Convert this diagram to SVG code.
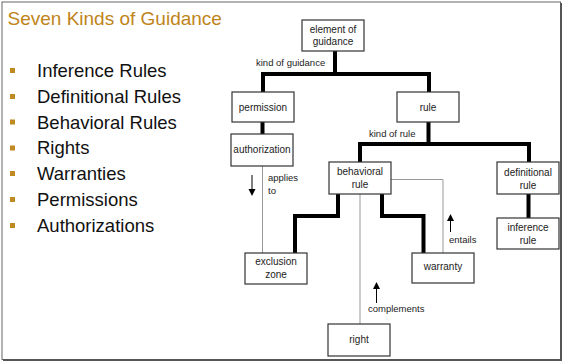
<svg xmlns="http://www.w3.org/2000/svg" width="564" height="364" viewBox="0 0 564 364">
<defs>
<style>
.box{fill:#fff;stroke:#333;stroke-width:1.2}
.nt{font-family:"Liberation Sans",Arial,sans-serif;font-size:10px;fill:#222;text-anchor:middle}
.lb{font-family:"Liberation Sans",Arial,sans-serif;font-size:9.5px;fill:#222}
.thick{fill:none;stroke:#000;stroke-width:4;stroke-linejoin:miter}
.thin{fill:none;stroke:#999;stroke-width:1}
.arr{fill:none;stroke:#000;stroke-width:1}
.li{font-family:"Liberation Sans",Arial,sans-serif;font-size:18.5px;fill:#111}
.bul{fill:#C08A22}
</style>
</defs>
<rect x="0" y="0" width="564" height="364" fill="#fff"/>
<rect x="2" y="2" width="558.5" height="357.5" fill="none" stroke="#666" stroke-width="1"/>
<path d="M561,3 V360 H3" fill="none" stroke="#555" stroke-width="2"/>

<text x="7.5" y="25" font-family="'Liberation Sans',Arial,sans-serif" font-size="19px" fill="#C0841A">Seven Kinds of Guidance</text>

<g id="list">
<rect class="bul" x="10" y="68" width="5" height="5"/>
<text class="li" x="37" y="77">Inference Rules</text>
<rect class="bul" x="10" y="94" width="5" height="5"/>
<text class="li" x="37" y="103">Definitional Rules</text>
<rect class="bul" x="10" y="119.5" width="5" height="5"/>
<text class="li" x="37" y="128.6">Behavioral Rules</text>
<rect class="bul" x="10" y="145.5" width="5" height="5"/>
<text class="li" x="37" y="154.4">Rights</text>
<rect class="bul" x="10" y="171" width="5" height="5"/>
<text class="li" x="37" y="180.2">Warranties</text>
<rect class="bul" x="10" y="197" width="5" height="5"/>
<text class="li" x="37" y="206">Permissions</text>
<rect class="bul" x="10" y="223" width="5" height="5"/>
<text class="li" x="37" y="231.8">Authorizations</text>
</g>

<g id="connectors">
<path class="thick" d="M335,51 V74 H263 V92 M335,74 H429 V92"/>
<path class="thick" d="M262.5,122 V134"/>
<path class="thick" d="M428.5,122 V144 H360 V162 M428.5,144 H529 V162"/>
<path class="thick" d="M528.5,194 V218"/>
<path class="thick" d="M338,194 V216 H295 V253"/>
<path class="thick" d="M382,194 V216 H423.5 V253"/>
<path class="thin" d="M391,179.5 H443 V253"/>
<path class="thin" d="M360,194 V324"/>
<path class="thin" d="M262.5,166 V253"/>
<text class="lb" x="256" y="66">kind of guidance</text>
<text class="lb" x="369" y="137">kind of rule</text>
<text class="lb" x="268" y="181">applies</text>
<text class="lb" x="268" y="194">to</text>
<text class="lb" x="449" y="243">entails</text>
<text class="lb" x="368" y="312">complements</text>
<path class="arr" d="M252,175 V191"/>
<polygon points="248.5,189 255.5,189 252,196" fill="#000"/>
<path class="arr" d="M450.5,219 V232"/>
<polygon points="447,221 454,221 450.5,214" fill="#000"/>
<path class="arr" d="M376.5,287 V303"/>
<polygon points="373,289 380,289 376.5,282" fill="#000"/>
</g>

<g id="element-of-guidance">
<rect class="box" x="302" y="20" width="62" height="31"/>
<text class="nt" x="333" y="32.5">element of</text>
<text class="nt" x="333" y="45">guidance</text>
</g>
<g id="permission">
<rect class="box" x="232" y="92" width="62" height="30"/>
<text class="nt" x="263" y="110.5">permission</text>
</g>
<g id="rule">
<rect class="box" x="397" y="92" width="62" height="30"/>
<text class="nt" x="428" y="110.5">rule</text>
</g>
<g id="authorization">
<rect class="box" x="231" y="134" width="62" height="32"/>
<text class="nt" x="262" y="153">authorization</text>
</g>
<g id="behavioral-rule">
<rect class="box" x="329" y="162" width="62" height="32"/>
<text class="nt" x="360" y="175">behavioral</text>
<text class="nt" x="360" y="188">rule</text>
</g>
<g id="definitional-rule">
<rect class="box" x="497" y="162" width="62" height="32"/>
<text class="nt" x="528" y="175.5">definitional</text>
<text class="nt" x="528" y="188.5">rule</text>
</g>
<g id="inference-rule">
<rect class="box" x="497" y="218" width="62" height="31"/>
<text class="nt" x="528" y="231">inference</text>
<text class="nt" x="528" y="244">rule</text>
</g>
<g id="exclusion-zone">
<rect class="box" x="245" y="253" width="62" height="31"/>
<text class="nt" x="276" y="265">exclusion</text>
<text class="nt" x="276" y="278">zone</text>
</g>
<g id="warranty">
<rect class="box" x="412" y="253" width="62" height="30"/>
<text class="nt" x="443" y="269.5">warranty</text>
</g>
<g id="right">
<rect class="box" x="328" y="324" width="62" height="32"/>
<text class="nt" x="359" y="342.5">right</text>
</g>
</svg>
